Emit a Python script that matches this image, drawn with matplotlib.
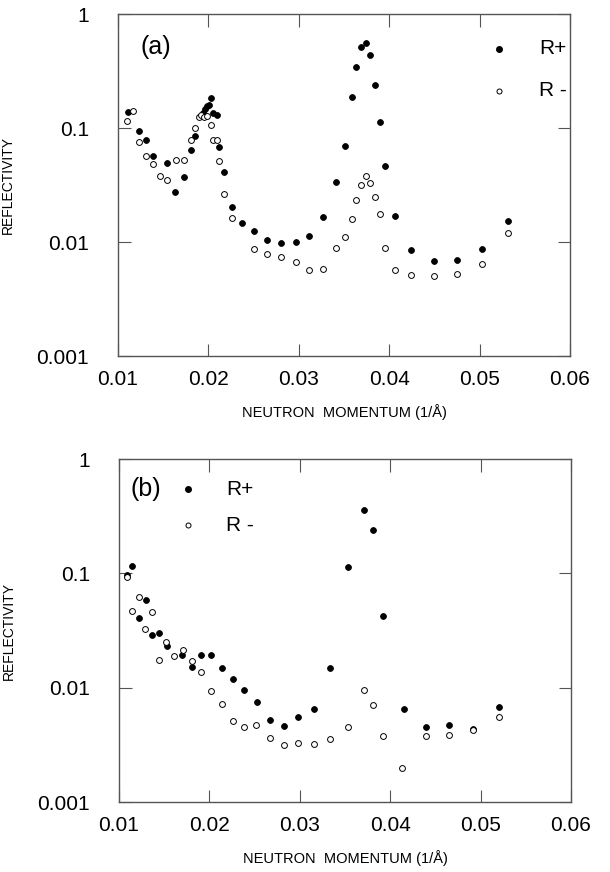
import matplotlib
matplotlib.use("Agg")
import matplotlib.pyplot as plt
import numpy as np

plt.rcParams['font.family'] = ['Liberation Sans', 'DejaVu Sans']

# ---- Panel (a) data ----
a_plus_q = [0.01107, 0.01232, 0.0131, 0.01384, 0.01546, 0.01634, 0.0173, 0.01808, 0.01855,
            0.0194, 0.01965, 0.0199, 0.0201, 0.0203, 0.02054, 0.02092, 0.0212, 0.02176,
            0.02258, 0.02368, 0.0250, 0.02648, 0.02803, 0.02966, 0.03113, 0.03268, 0.03412,
            0.03508, 0.03585, 0.03633, 0.03685, 0.0374, 0.03791, 0.03843, 0.03898, 0.03954,
            0.04068, 0.04245, 0.04493, 0.04754, 0.05027, 0.05318]
a_plus_r = [0.137, 0.0935, 0.0785, 0.0568, 0.049, 0.0275, 0.0374, 0.0637, 0.085,
            0.135, 0.148, 0.155, 0.16, 0.182, 0.135, 0.129, 0.0677, 0.0409,
            0.0204, 0.0148, 0.0126, 0.0104, 0.00986, 0.0099, 0.01136, 0.0165, 0.0334,
            0.070, 0.188, 0.343, 0.517, 0.553, 0.437, 0.24, 0.1136, 0.0467,
            0.017, 0.0085, 0.00686, 0.00695, 0.00869, 0.0154]
a_minus_q = [0.01103, 0.0117, 0.01236, 0.0131, 0.01384, 0.01465, 0.01546, 0.01638, 0.0173,
             0.01808, 0.01855, 0.01895, 0.0192, 0.0195, 0.0198, 0.0203, 0.02054, 0.02092,
             0.0212, 0.02176, 0.02258, 0.02508, 0.02648, 0.02803, 0.02966, 0.03113, 0.03268,
             0.03412, 0.03511, 0.03588, 0.03636, 0.03688, 0.0374, 0.03791, 0.03846, 0.03902,
             0.03957, 0.04068, 0.04245, 0.04493, 0.04754, 0.05027, 0.05318]
a_minus_r = [0.115, 0.14, 0.0759, 0.0572, 0.0483, 0.0382, 0.035, 0.0524, 0.0525,
             0.0785, 0.0994, 0.126, 0.13, 0.124, 0.128, 0.107, 0.079, 0.079,
             0.051, 0.0265, 0.0163, 0.00863, 0.00789, 0.00734, 0.00672, 0.00568, 0.0058,
             0.0089, 0.011, 0.0158, 0.0233, 0.0318, 0.0379, 0.033, 0.0247, 0.0177,
             0.0089, 0.00565, 0.0051, 0.0050, 0.0052, 0.00641, 0.0121]

# ---- Panel (b) data ----
b_plus_q = [0.01085, 0.01144, 0.01221, 0.01295, 0.01362, 0.01439, 0.01528, 0.017, 0.01804,
            0.01907, 0.02018, 0.02136, 0.02258, 0.0238, 0.02527, 0.02674, 0.02822, 0.02984,
            0.03154, 0.03334, 0.0353, 0.03707, 0.03814, 0.03924, 0.04153, 0.04393, 0.04647,
            0.04913, 0.052]
b_plus_r = [0.096, 0.117, 0.0406, 0.0587, 0.0286, 0.0302, 0.023, 0.0194, 0.0153,
            0.0194, 0.0194, 0.015, 0.0118, 0.0096, 0.00744, 0.00522, 0.00466, 0.00554,
            0.00652, 0.0149, 0.113, 0.356, 0.237, 0.042, 0.00656, 0.0045, 0.00469,
            0.00436, 0.00682]
b_minus_q = [0.01085, 0.01147, 0.01218, 0.01291, 0.01362, 0.01442, 0.01523, 0.01612, 0.01704,
             0.01804, 0.0191, 0.02018, 0.02136, 0.02258, 0.0238, 0.02519, 0.02674, 0.02822,
             0.02984, 0.03154, 0.03334, 0.0353, 0.03707, 0.03814, 0.03924, 0.04136, 0.04393,
             0.04647, 0.04913, 0.052]
b_minus_r = [0.092, 0.0473, 0.0623, 0.0325, 0.0455, 0.0173, 0.0249, 0.0191, 0.0212,
             0.0172, 0.0138, 0.0093, 0.00725, 0.00512, 0.0045, 0.00472, 0.0036, 0.00316,
             0.00329, 0.0032, 0.00353, 0.00456, 0.00955, 0.0070, 0.00379, 0.00199, 0.00379,
             0.00383, 0.00424, 0.00554]

x_ticks = [0.01, 0.02, 0.03, 0.04, 0.05, 0.06]
x_tick_labels = ['0.01', '0.02', '0.03', '0.04', '0.05', '0.06']
y_ticks = [0.001, 0.01, 0.1, 1]
y_tick_labels = ['0.001', '0.01', '0.1', '1']

W, H = 610, 872
fig = plt.figure(figsize=(W / 100, H / 100), dpi=100)

def px_axes(left, top, right, bottom):
    return fig.add_axes([left / W, 1 - bottom / H, (right - left) / W, (bottom - top) / H])

ax_a = px_axes(118, 14, 570, 356)
ax_b = px_axes(119, 459, 571, 802)

spine_col = '#555555'

def style(ax, panel, qp, rp, qm, rm, legend_pos, leg_text_x, panel_pos):
    ax.set_yscale('log')
    ax.set_xlim(0.01, 0.06)
    ax.set_ylim(0.001, 1)
    ax.plot(qp, rp, 'o', color='black', markersize=4.2, markeredgewidth=0.6, clip_on=False)
    ax.plot(qm, rm, 'o', markerfacecolor='white', markeredgecolor='black',
            markersize=4.2, markeredgewidth=0.7, clip_on=False)
    ax.set_xticks(x_ticks)
    ax.set_xticklabels(x_tick_labels)
    ax.set_yticks(y_ticks)
    ax.set_yticklabels(y_tick_labels)
    ax.yaxis.set_minor_locator(matplotlib.ticker.NullLocator())
    ax.tick_params(axis='both', which='major', direction='in', length=9, width=0.8,
                   color=spine_col, labelsize=15, top=True, right=True)
    ax.tick_params(axis='x', pad=10)
    ax.tick_params(axis='y', pad=21)
    for s in ax.spines.values():
        s.set_color(spine_col)
        s.set_linewidth(1.0)
    ax.set_ylabel('REFLECTIVITY', fontsize=10)
    ax.yaxis.set_label_coords(-0.228, 0.5)
    ax.set_xlabel('NEUTRON  MOMENTUM (1/Å)', fontsize=10.5, labelpad=11)
    ax.text(panel_pos[0], panel_pos[1], panel, transform=ax.transAxes,
            fontsize=18, ha='left', va='center')
    # legend
    (lx, ly1, ly2) = legend_pos
    ax.plot([lx], [ly1], 'o', color='black', markersize=4.0, transform=ax.transAxes)
    ax.plot([lx], [ly2], 'o', markerfacecolor='white', markeredgecolor='black',
            markersize=3.6, markeredgewidth=0.7, transform=ax.transAxes)
    ax.text(leg_text_x, ly1, 'R+', transform=ax.transAxes, fontsize=15,
            ha='left', va='center')
    ax.text(leg_text_x, ly2, 'R -', transform=ax.transAxes, fontsize=15,
            ha='left', va='center')

style(ax_a, '(a)', a_plus_q, a_plus_r, a_minus_q, a_minus_r,
      ((498.7 - 118) / 452, 1 - (49 - 14) / 342, 1 - (91 - 14) / 342),
      (539 - 118) / 452, ((140 - 118) / 452, 1 - (47 - 14) / 342))
style(ax_b, '(b)', b_plus_q, b_plus_r, b_minus_q, b_minus_r,
      ((188 - 119) / 452, 1 - (489 - 459) / 343, 1 - (525 - 459) / 343),
      (226 - 119) / 452, ((130 - 119) / 452, 1 - (489 - 459) / 343))

fig.savefig('out.png', dpi=100)
